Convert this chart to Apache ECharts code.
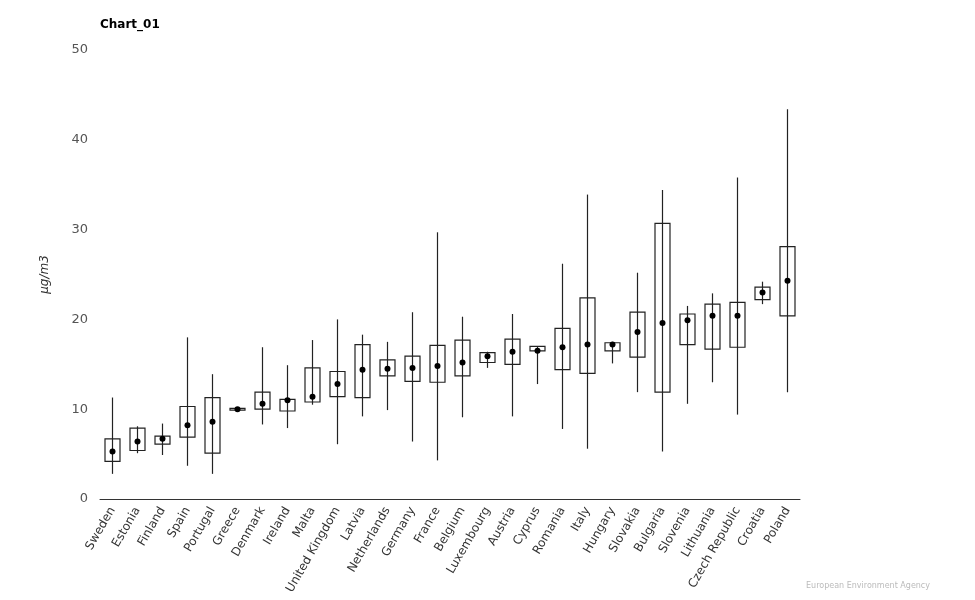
<!DOCTYPE html>
<html>
<head>
<meta charset="utf-8">
<script src="https://cdn.jsdelivr.net/npm/echarts@6/dist/echarts.min.js"></script>
<style>html,body{margin:0;padding:0;background:#fff}#c{width:975px;height:600px}</style>
</head>
<body>
<div id="c"></div>
<script>
const categories = ["Sweden","Estonia","Finland","Spain","Portugal","Greece","Denmark","Ireland","Malta","United Kingdom","Latvia","Netherlands","Germany","France","Belgium","Luxembourg","Austria","Cyprus","Romania","Italy","Hungary","Slovakia","Bulgaria","Slovenia","Lithuania","Czech Republic","Croatia","Poland"];
const minVals  = [2.8, 5.1, 4.9, 3.7, 2.8, 9.85, 8.3, 7.9, 10.5, 6.1, 9.2, 9.9, 6.4, 4.3, 9.1, 14.6, 9.2, 12.8, 7.8, 5.6, 15.1, 11.9, 5.3, 10.6, 13.0, 9.4, 21.7, 11.9];
const q1Vals   = [4.2, 5.4, 6.1, 6.9, 5.1, 9.9, 10.0, 9.8, 10.8, 11.4, 11.3, 13.7, 13.1, 13.0, 13.7, 15.2, 15.0, 16.5, 14.4, 14.0, 16.5, 15.8, 11.9, 17.2, 16.7, 16.9, 22.2, 20.4];
const q3Vals   = [6.7, 7.9, 7.0, 10.3, 11.3, 10.1, 11.9, 11.1, 14.6, 14.2, 17.2, 15.5, 15.9, 17.1, 17.7, 16.3, 17.8, 17.0, 19.0, 22.4, 17.4, 20.8, 30.7, 20.6, 21.7, 21.9, 23.6, 28.1];
const maxVals  = [11.3, 8.1, 8.4, 18.0, 13.9, 10.15, 16.9, 14.9, 17.7, 20.0, 18.3, 17.5, 20.8, 29.7, 20.3, 16.4, 20.6, 17.0, 26.2, 33.9, 17.5, 25.2, 34.4, 21.5, 22.9, 35.8, 24.2, 43.4];
const meanVals = [5.3, 6.4, 6.7, 8.2, 8.6, 10.0, 10.6, 11.0, 11.4, 12.8, 14.4, 14.5, 14.6, 14.8, 15.2, 15.9, 16.4, 16.5, 16.9, 17.2, 17.2, 18.6, 19.6, 19.9, 20.4, 20.4, 23.0, 24.3];
const yTicks = [0, 10, 20, 30, 40, 50];

const boxData = categories.map((c, i) => [i, minVals[i], q1Vals[i], q3Vals[i], maxVals[i]]);
const meanData = categories.map((c, i) => [i, meanVals[i]]);

const chart = echarts.init(document.getElementById('c'), null, {renderer: 'canvas'});
const font = '"DejaVu Sans", Verdana, sans-serif';
chart.setOption({
  animation: false,
  backgroundColor: '#fff',
  title: {
    text: 'Chart_01', left: 95, top: 14,
    textStyle: {fontFamily: font, fontSize: 12, fontWeight: 'bold', color: '#000'}
  },
  grid: {left: 100, right: 175, top: 50, bottom: 101, containLabel: false},
  xAxis: {
    type: 'category', data: categories,
    axisLine: {show: true, lineStyle: {color: '#333', width: 1}},
    axisTick: {show: false},
    axisLabel: {rotate: 60, interval: 0, margin: 9, fontFamily: font, fontSize: 12, color: '#333'},
    splitLine: {show: false}
  },
  yAxis: {
    type: 'value', min: yTicks[0], max: yTicks[yTicks.length - 1], interval: 10,
    name: 'µg/m3', nameLocation: 'middle', nameGap: 49, nameRotate: 90,
    nameTextStyle: {fontFamily: font, fontSize: 12, fontStyle: 'italic', color: '#333'},
    axisLine: {show: false}, axisTick: {show: false},
    axisLabel: {margin: 12, fontFamily: font, fontSize: 13, color: '#555'},
    splitLine: {show: false}
  },
  series: [
    {
      type: 'custom',
      data: boxData,
      encode: {x: 0, y: [1, 2, 3, 4]},
      renderItem: function (params, api) {
        const x = api.value(0);
        const pMin = api.coord([x, api.value(1)]);
        const pQ1 = api.coord([x, api.value(2)]);
        const pQ3 = api.coord([x, api.value(3)]);
        const pMax = api.coord([x, api.value(4)]);
        const w = 15;
        return {
          type: 'group',
          children: [
            {type: 'rect', shape: {x: pQ3[0] - w / 2, y: pQ3[1], width: w, height: Math.max(pQ1[1] - pQ3[1], 1)},
             style: {fill: 'none', stroke: '#222', lineWidth: 1.2}},
            {type: 'line', shape: {x1: pMin[0], y1: pMin[1], x2: pMax[0], y2: pMax[1]},
             style: {stroke: '#222', lineWidth: 1.2}}
          ]
        };
      },
      z: 2
    },
    {
      type: 'scatter',
      data: meanData,
      symbol: 'circle', symbolSize: 6,
      itemStyle: {color: '#000', opacity: 1},
      z: 3
    }
  ],
  graphic: [
    {type: 'text', right: 45, bottom: 10,
     style: {text: 'European Environment Agency', fontFamily: font, fontSize: 8, fill: '#bbb'}}
  ]
});
</script>
</body>
</html>
